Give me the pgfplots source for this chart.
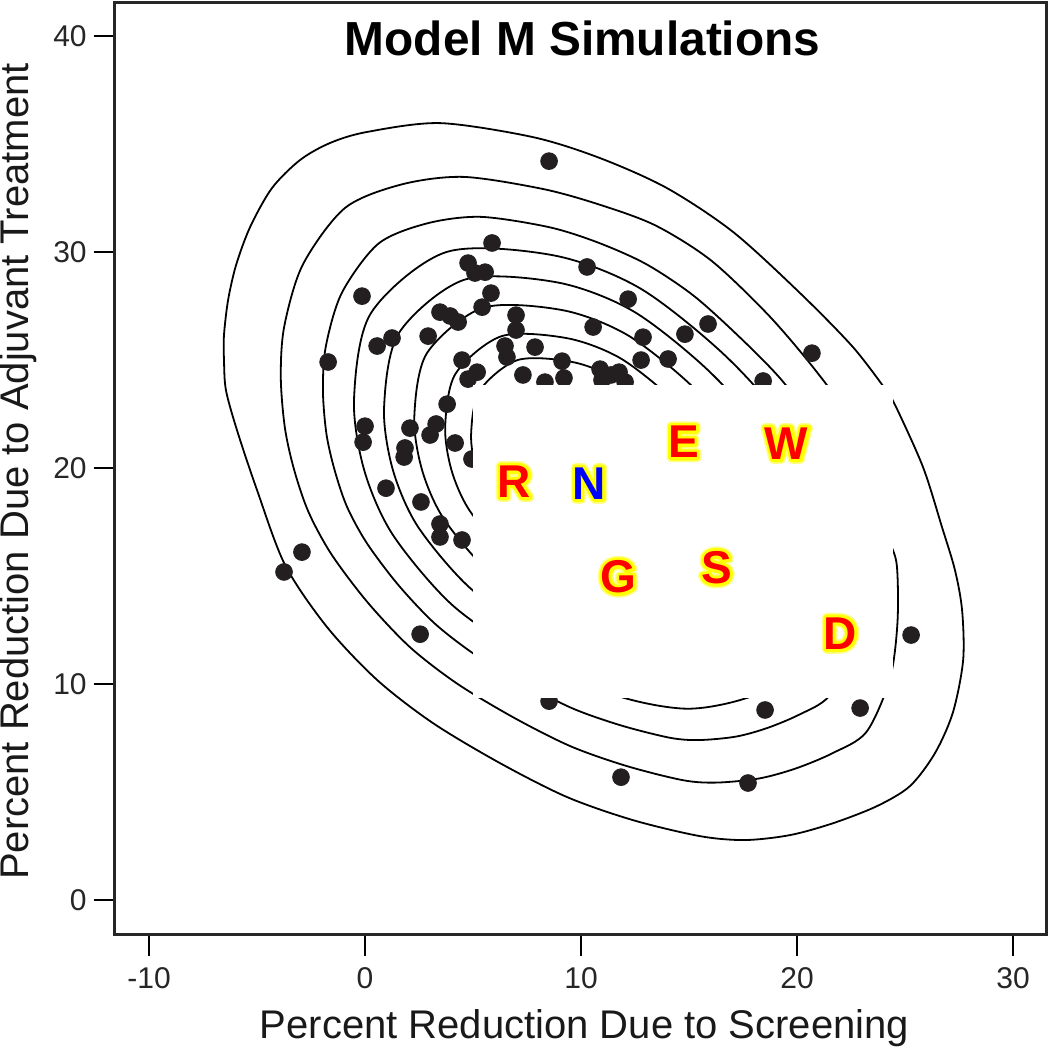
\documentclass[border=0pt]{standalone}
\usepackage{fontspec}
\setmainfont{Liberation Sans}
\usepackage{pgfplots}
\pgfplotsset{compat=1.18}
\definecolor{dotc}{HTML}{231F20}
\definecolor{lred}{HTML}{FF0000}
\definecolor{lblue}{HTML}{0000FF}
\newcommand{\lettfont}{\bfseries\fontsize{23}{27}\selectfont}
\newcommand{\glowtextA}[1]{\special{pdf:literal direct 2 Tr 4.6 w 1 J 1 j 1 1 0.55 RG 1 1 0.55 rg}#1\special{pdf:literal direct 0 Tr}}
\newcommand{\glowtext}[1]{\special{pdf:literal direct 2 Tr 3 w 1 J 1 j 1 1 0 RG 1 1 0 rg}#1\special{pdf:literal direct 0 Tr}}
\newcommand{\glowletter}[3]{%
  \node[font=\lettfont, inner sep=0pt] at (#1) {\glowtextA{#2}};
  \node[font=\lettfont, inner sep=0pt] at (#1) {\glowtext{#2}};
  \node[text=#3, font=\lettfont, inner sep=0pt] at (#1) {#2};}
\begin{document}
\begin{tikzpicture}
\begin{axis}[
  scale only axis, width=465.9pt, height=466.1pt,
  xmin=-11.588, xmax=31.551, ymin=-1.606, ymax=41.55,
  axis line style={black!85, line width=1.3pt},
  xtick={-10,0,10,20,30}, xticklabels={-10,0,10,20,30},
  ytick={0,10,20,30,40}, yticklabels={0,10,20,30,40},
  tick align=outside, xtick pos=left, ytick pos=left,
  major tick length=10.5pt,
  tick style={black, line width=1pt},
  tick label style={font=\fontsize{15}{18}\selectfont, text=black!85},
  xticklabel style={yshift=-2.5pt},
]
% contours
\addplot[smooth, black, line width=0.9pt] coordinates {(24.12,23.61) (22.59,25.60) (20.14,28.10) (17.04,30.93) (13.98,32.96) (10.88,34.35) (7.78,35.32) (3.47,35.97) (0.09,35.56) (-1.62,35.05) (-3.01,34.26) (-4.31,32.96) (-5.32,31.16) (-5.97,29.40) (-6.34,27.78) (-6.53,26.16) (-6.53,25.0) (-6.44,23.61) (-5.93,21.76) (-5.0,18.98) (-3.70,15.51) (-1.76,12.64) (0.56,10.19) (3.15,8.19) (6.25,6.34) (9.35,4.77) (12.41,3.70) (15.51,2.96) (17.59,2.78) (19.68,3.01) (21.67,3.56) (23.70,4.35) (25.23,5.28) (26.39,6.81) (27.22,8.70) (27.69,11.11) (27.64,13.43) (27.31,15.28) (26.71,17.27) (25.83,20.05) (24.54,22.92) (24.12,23.61)};
\addplot[smooth, black, line width=0.9pt] coordinates {(23.44,20.03) (22.35,22.45) (20.70,24.72) (18.63,27.13) (16.01,29.62) (13.43,31.24) (10.81,32.21) (8.19,32.93) (4.55,33.48) (1.69,33.13) (-0.93,32.04) (-2.88,29.42) (-3.74,26.56) (-3.90,24.21) (-3.71,21.86) (-3.28,19.91) (-2.61,17.95) (-1.55,16.00) (0.13,13.77) (2.09,11.70) (4.28,10.01) (6.90,8.44) (9.52,7.12) (12.10,6.21) (14.72,5.55) (16.28,5.44) (18.24,5.63) (19.93,6.09) (21.64,6.80) (23.21,7.78) (24.30,10.24) (24.65,12.86) (24.62,15.49) (24.25,16.78) (23.44,20.03)};
\addplot[smooth, black, line width=0.9pt] coordinates {(22.58,17.20) (21.67,20.01) (20.73,22.11) (19.30,24.06) (17.52,25.89) (15.25,27.95) (13.02,29.44) (10.76,30.45) (8.49,31.16) (5.35,31.63) (2.88,31.33) (0.62,30.39) (-1.07,28.12) (-1.81,25.66) (-1.95,23.63) (-1.79,21.60) (-1.41,19.91) (-0.84,18.22) (0.08,16.53) (1.53,14.60) (3.22,12.81) (5.11,11.35) (7.38,10.00) (9.64,8.86) (11.87,8.08) (14.14,7.51) (15.49,7.41) (17.18,7.57) (18.63,7.97) (20.11,8.59) (21.47,9.43) (22.58,11.56) (23.06,13.82) (22.99,16.09) (22.58,17.20)};
\addplot[smooth, black, line width=0.9pt] coordinates {(21.17,17.52) (19.53,21.85) (16.69,25.19) (12.72,28.33) (8.72,29.85) (3.76,30.00) (0.27,27.17) (-0.51,23.19) (-0.04,19.91) (1.28,16.92) (4.06,13.64) (7.73,11.16) (11.70,9.45) (14.90,8.86) (17.68,9.36) (20.19,10.65) (21.59,14.53) (21.17,17.52)};
\addplot[smooth, black, line width=0.9pt] coordinates {(19.80,17.82) (18.37,21.60) (15.89,24.52) (12.42,27.26) (8.93,28.59) (4.60,28.72) (1.56,26.24) (0.88,22.78) (1.29,19.91) (2.44,17.30) (4.87,14.44) (8.07,12.27) (11.54,10.78) (14.33,10.27) (16.75,10.70) (18.94,11.83) (20.17,15.21) (19.80,17.82)};
\addplot[smooth, black, line width=0.9pt] coordinates {(18.42,18.13) (17.20,21.35) (15.09,23.84) (12.13,26.17) (9.15,27.31) (5.46,27.42) (2.86,25.31) (2.28,22.35) (2.64,19.91) (3.62,17.69) (5.69,15.24) (8.42,13.40) (11.38,12.13) (13.75,11.69) (15.82,12.06) (17.69,13.02) (18.73,15.91) (18.42,18.13)};
\addplot[smooth, black, line width=0.9pt] coordinates {(17.02,18.44) (16.01,21.10) (14.27,23.15) (11.83,25.08) (9.37,26.01) (6.33,26.11) (4.19,24.37) (3.71,21.93) (4.00,19.91) (4.81,18.08) (6.52,16.06) (8.77,14.54) (11.21,13.49) (13.17,13.13) (14.88,13.44) (16.42,14.23) (17.27,16.61) (17.02,18.44)};
\addplot[smooth, black, line width=0.9pt] coordinates {(15.83,18.70) (15.01,20.89) (13.58,22.57) (11.58,24.15) (9.56,24.92) (7.06,25.00) (5.30,23.57) (4.91,21.56) (5.15,19.91) (5.81,18.41) (7.22,16.75) (9.06,15.50) (11.07,14.64) (12.68,14.34) (14.08,14.60) (15.34,15.25) (16.05,17.20) (15.83,18.70)};
% simulated points
\addplot[only marks, mark=*, mark size=4.2pt, color=dotc] coordinates {
(8.52,34.21) (5.88,30.42) (4.77,29.49) (5.09,29.03) (5.56,29.07) (10.28,29.31) (-0.14,27.96) (5.83,28.10) (5.42,27.45) (12.18,27.82) (3.47,27.22) (3.94,27.04) (4.31,26.76) (6.99,27.08) (6.99,26.39) (1.25,26.02) (0.56,25.65) (2.92,26.11) (10.56,26.53) (12.87,26.06) (12.78,25.0) (-1.71,24.91) (6.48,25.65) (6.57,25.14) (7.87,25.60) (4.49,25.0) (9.12,24.95) (5.19,24.44) (4.77,24.12) (7.31,24.31) (8.33,23.98) (9.21,24.17) (10.88,24.58) (10.97,24.07) (11.39,24.31) (11.76,24.44) (12.04,23.98) (14.81,26.20) (15.88,26.67) (14.03,25.05) (20.69,25.32) (18.43,24.03) (3.80,22.96) (2.08,21.85) (0.0,21.94) (-0.09,21.20) (3.29,22.04) (3.01,21.53) (1.85,20.93) (1.81,20.51) (4.17,21.16) (4.95,20.42) (0.97,19.07) (2.59,18.43) (3.47,17.41) (3.47,16.81) (4.49,16.67) (-2.92,16.11) (-3.75,15.19) (2.55,12.31) (8.52,9.21) (11.85,5.69) (18.52,8.80) (22.92,8.89) (17.73,5.42) (25.28,12.27)};
% anchor coordinates
\coordinate (pbl) at (axis cs:5.0,9.35);
\coordinate (ptr) at (axis cs:24.44,23.84);
\coordinate (lR) at (axis cs:6.90,19.38);
\coordinate (lN) at (axis cs:10.37,19.29);
\coordinate (lE) at (axis cs:14.74,21.22);
\coordinate (lW) at (axis cs:19.52,21.14);
\coordinate (lG) at (axis cs:11.73,14.97);
\coordinate (lS) at (axis cs:16.27,15.40);
\coordinate (lD) at (axis cs:21.99,12.35);
\coordinate (ttl) at (axis cs:10.07,39.12);
\coordinate (xl) at (axis cs:10.16,-6.40);
\coordinate (yl) at (axis cs:-15.56,19.84);
\coordinate (bbl) at (axis cs:-16.90,-6.94);
\coordinate (btr) at (axis cs:31.67,41.67);
\end{axis}
\fill[white] (pbl) rectangle (ptr);
\glowletter{lR}{R}{lred}
\glowletter{lN}{N}{lblue}
\glowletter{lE}{E}{lred}
\glowletter{lW}{W}{lred}
\glowletter{lG}{G}{lred}
\glowletter{lS}{S}{lred}
\glowletter{lD}{D}{lred}
\node[anchor=base, font=\bfseries\fontsize{23.9}{28}\selectfont] at (ttl) {Model M Simulations};
\node[anchor=base, font=\fontsize{20}{24}\selectfont, text=black!90] at (xl) {Percent Reduction Due to Screening};
\node[anchor=base, rotate=90, font=\fontsize{20}{24}\selectfont, text=black!90] at (yl) {Percent Reduction Due to Adjuvant Treatment};
\pgfresetboundingbox
\path[use as bounding box] (bbl) rectangle (btr);
\end{tikzpicture}
\end{document}
